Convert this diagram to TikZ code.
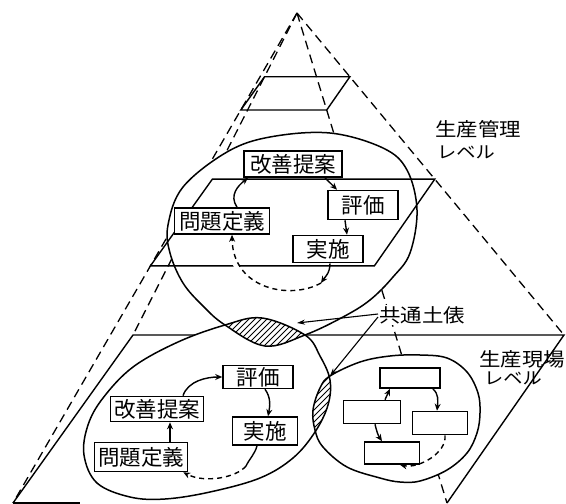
\documentclass[tikz,border=0pt]{standalone}
\usepackage{fontspec}
\newfontfamily\jp{Noto Sans CJK JP}
\usetikzlibrary{arrows.meta,calc}
\newcommand{\widetxt}[1]{\scalebox{1.13}[1]{#1}}
\begin{document}
\begin{tikzpicture}[x=1pt,y=-1pt,
  edge/.style={line width=1.3pt, dash pattern=on 9pt off 5.5pt},
  plane/.style={line width=1.4pt},
  blob/.style={line width=1.5pt},
  box/.style={draw, line width=1.6pt, fill=white, inner sep=0pt, font=\jp\fontsize{21.5}{21.5}\selectfont},
  ebox/.style={draw, line width=1.6pt, fill=white, inner sep=0pt},
  arr/.style={line width=1.4pt, -{Stealth[length=7pt,width=6pt]}},
  dsh/.style={dash pattern=on 5pt off 4pt},
  lab/.style={font=\jp\fontsize{19}{19}\selectfont, inner sep=1pt},
  hatch/.style={line width=0.9pt},
  lead/.style={line width=1.1pt, -{Stealth[length=8pt,width=5pt]}}
]
\useasboundingbox[fill=white] (0,0) rectangle (566,504);

% pyramid corners
\coordinate (A) at (297,13);
\coordinate (B) at (133,335);
\coordinate (R) at (564,335);
\coordinate (F) at (447,503);
\coordinate (L) at (13,503);
\coordinate (Lstub) at (80,503);
% sections
\foreach \n/\t in {1/0.198,2/0.516}{
  \coordinate (B\n) at ($(A)!\t!(B)$);
  \coordinate (R\n) at ($(A)!\t!(R)$);
  \coordinate (F\n) at ($(A)!\t!(F)$);
  \coordinate (L\n) at ($(A)!\t!(L)$);
}

\def\Upath{plot[smooth cycle, tension=0.6] coordinates {(330,133) (383,148) (407,170) (417,210) (410,253) (393,277) (370,300) (343,317) (305,335) (265,346) (225,325) (203,306) (183,283) (170,253) (168,225) (183,187) (227,152) (270,137)}}
\def\LLpath{plot[smooth cycle, tension=0.6] coordinates {(305,335) (320,356) (330,380) (328,405) (315,432) (293,458) (260,478) (210,492) (165,499) (130,497) (97,483) (84,455) (88,425) (103,398) (133,367) (178,342) (225,325) (262,318)}}
\def\Rpath{plot[smooth cycle, tension=0.6] coordinates {(330,376) (360,362) (390,356) (420,355) (447,358) (467,372) (478,393) (480,413) (477,433) (467,453) (447,470) (420,481) (400,482) (380,478) (347,467) (323,447) (315,430) (313,410) (320,388)}}

% pyramid edges
\draw[edge] (A) -- (L);
\draw[edge] (A) -- (B);
\draw[edge] (A) -- (R);
\draw[edge] (A) -- (F);
% top section and base
\draw[plane] (B1) -- (R1) -- (F1) -- (L1) -- cycle;
\draw[plane] (L) -- (B) -- (R) -- (F);
\draw[plane] (L) -- (Lstub);

% white fills
\fill[white] \Upath;
\fill[white] \LLpath;
\fill[white] \Rpath;

% middle section
\draw[plane] (B2) -- (R2) -- (F2) -- (L2) -- cycle;

% hatched lenses
\begin{scope}
  \clip \Upath;
  \clip \LLpath;
  \foreach \k in {150,156,...,420} \draw[hatch] (\k,370) -- ++(70,-70);
\end{scope}
\begin{scope}
  \clip \LLpath;
  \clip \Rpath;
  \foreach \k in {250,256,...,420} \draw[hatch] (\k,450) -- ++(90,-90);
\end{scope}

% outlines
\draw[blob] \Upath;
\draw[blob] \LLpath;
\draw[blob] \Rpath;

% gap under dashed arc
\coordinate (p1) at (321,283);
\draw[white, line width=5pt] (p1) .. controls (291,300) and (233,289) .. (232,250);

% boxes upper
\node[box, minimum width=98pt, minimum height=26pt] (kz1) at (293,164) {改善提案};
\node[box, minimum width=70pt, minimum height=29pt] (hy1) at (363,205) {評価};
\node[box, minimum width=70pt, minimum height=27pt] (sj1) at (328,249) {実施};
\node[box, minimum width=95pt, minimum height=26pt] (pd1) at (222,221) {問題定義};
% boxes lower
\node[box, minimum width=70pt, minimum height=23pt] (hy2) at (258,377) {評価};
\node[box, minimum width=93pt, minimum height=25pt] (kz2) at (157,409) {改善提案};
\node[box, minimum width=65pt, minimum height=28pt] (sj2) at (265,431) {実施};
\node[box, minimum width=93pt, minimum height=29pt] (pd2) at (141,457) {問題定義};
% boxes right
\node[ebox, minimum width=60pt, minimum height=20pt] (rt) at (410,378) {};
\node[ebox, minimum width=57pt, minimum height=23pt] (rl) at (372,412) {};
\node[ebox, minimum width=55pt, minimum height=23pt] (rr) at (440,423) {};
\node[ebox, minimum width=55pt, minimum height=22pt] (rb) at (392,453) {};

% arrows upper
\draw[arr] ([xshift=15pt]pd1.north) .. controls +(-8,-12) and +(-10,8) .. ([xshift=-45pt]kz1.south);
\draw[arr] ([xshift=32pt]kz1.south) -- ([xshift=-26pt]hy1.north);
\draw[arr] ([xshift=-18pt]hy1.south) -- ([xshift=19pt]sj1.north);
\draw[arr] ([xshift=2pt]sj1.south) .. controls +(0,10) and +(4,-6) .. (p1);
\draw[arr, dsh] (p1) .. controls +(-30,17) and +(1,55) .. ([xshift=10pt]pd1.south);
% arrows lower
\draw[arr] ([xshift=29pt]pd2.north) -- ([xshift=13pt]kz2.south);
\draw[arr] ([xshift=26pt]kz2.north) .. controls +(5,-15) and +(-15,0) .. (hy2.west);
\draw[arr] ([xshift=7pt]hy2.south) .. controls +(6,8) and +(2,-10) .. ([xshift=3pt]sj2.north);
\coordinate (q2) at (246,466);
\draw[line width=1.4pt] ([xshift=-8pt]sj2.south) .. controls +(-2,8) and +(4,-8) .. (q2);
\draw[arr, dsh] (q2) .. controls +(-10,12) and +(21,11) .. ([xshift=-5pt]pd2.south east);
% arrows right
\draw[arr] ([xshift=-8pt]rt.south east) .. controls +(6,5) and +(1,-10) .. ([xshift=-3pt]rr.north);
\draw[arr] ([xshift=13pt]rl.north) -- ([xshift=-20pt]rt.south);
\draw[arr] ([xshift=3pt]rl.south) .. controls +(2,8) and +(-4,-6) .. ([xshift=-10pt]rb.north);
\draw[arr, dsh] ([xshift=5pt]rr.south) .. controls +(2,18) and +(18,4) .. ([xshift=8pt]rb.south);

% labels
\node[lab, anchor=west] (kanri) at (434,129) {\widetxt{生産管理}};
\node[lab, anchor=west, font=\jp\fontsize{17}{17}\selectfont] (kanriL) at (436,152) {\widetxt{レベル}};
\node[lab, anchor=west] (genba) at (478,359) {\widetxt{生産現場}};
\node[lab, anchor=west, font=\jp\fontsize{17}{17}\selectfont] (genbaL) at (483,378) {\widetxt{レベル}};
\node[lab, fill=white, anchor=west] (kt) at (378,315) {\widetxt{共通土俵}};

% leaders
\coordinate (lens1) at (297,323);
\coordinate (lens2) at (330,376);
\draw[lead] ([yshift=1pt]kt.west) -- (lens1);
\draw[lead] ([yshift=-2pt]kt.west) -- (lens2);
\end{tikzpicture}
\end{document}
